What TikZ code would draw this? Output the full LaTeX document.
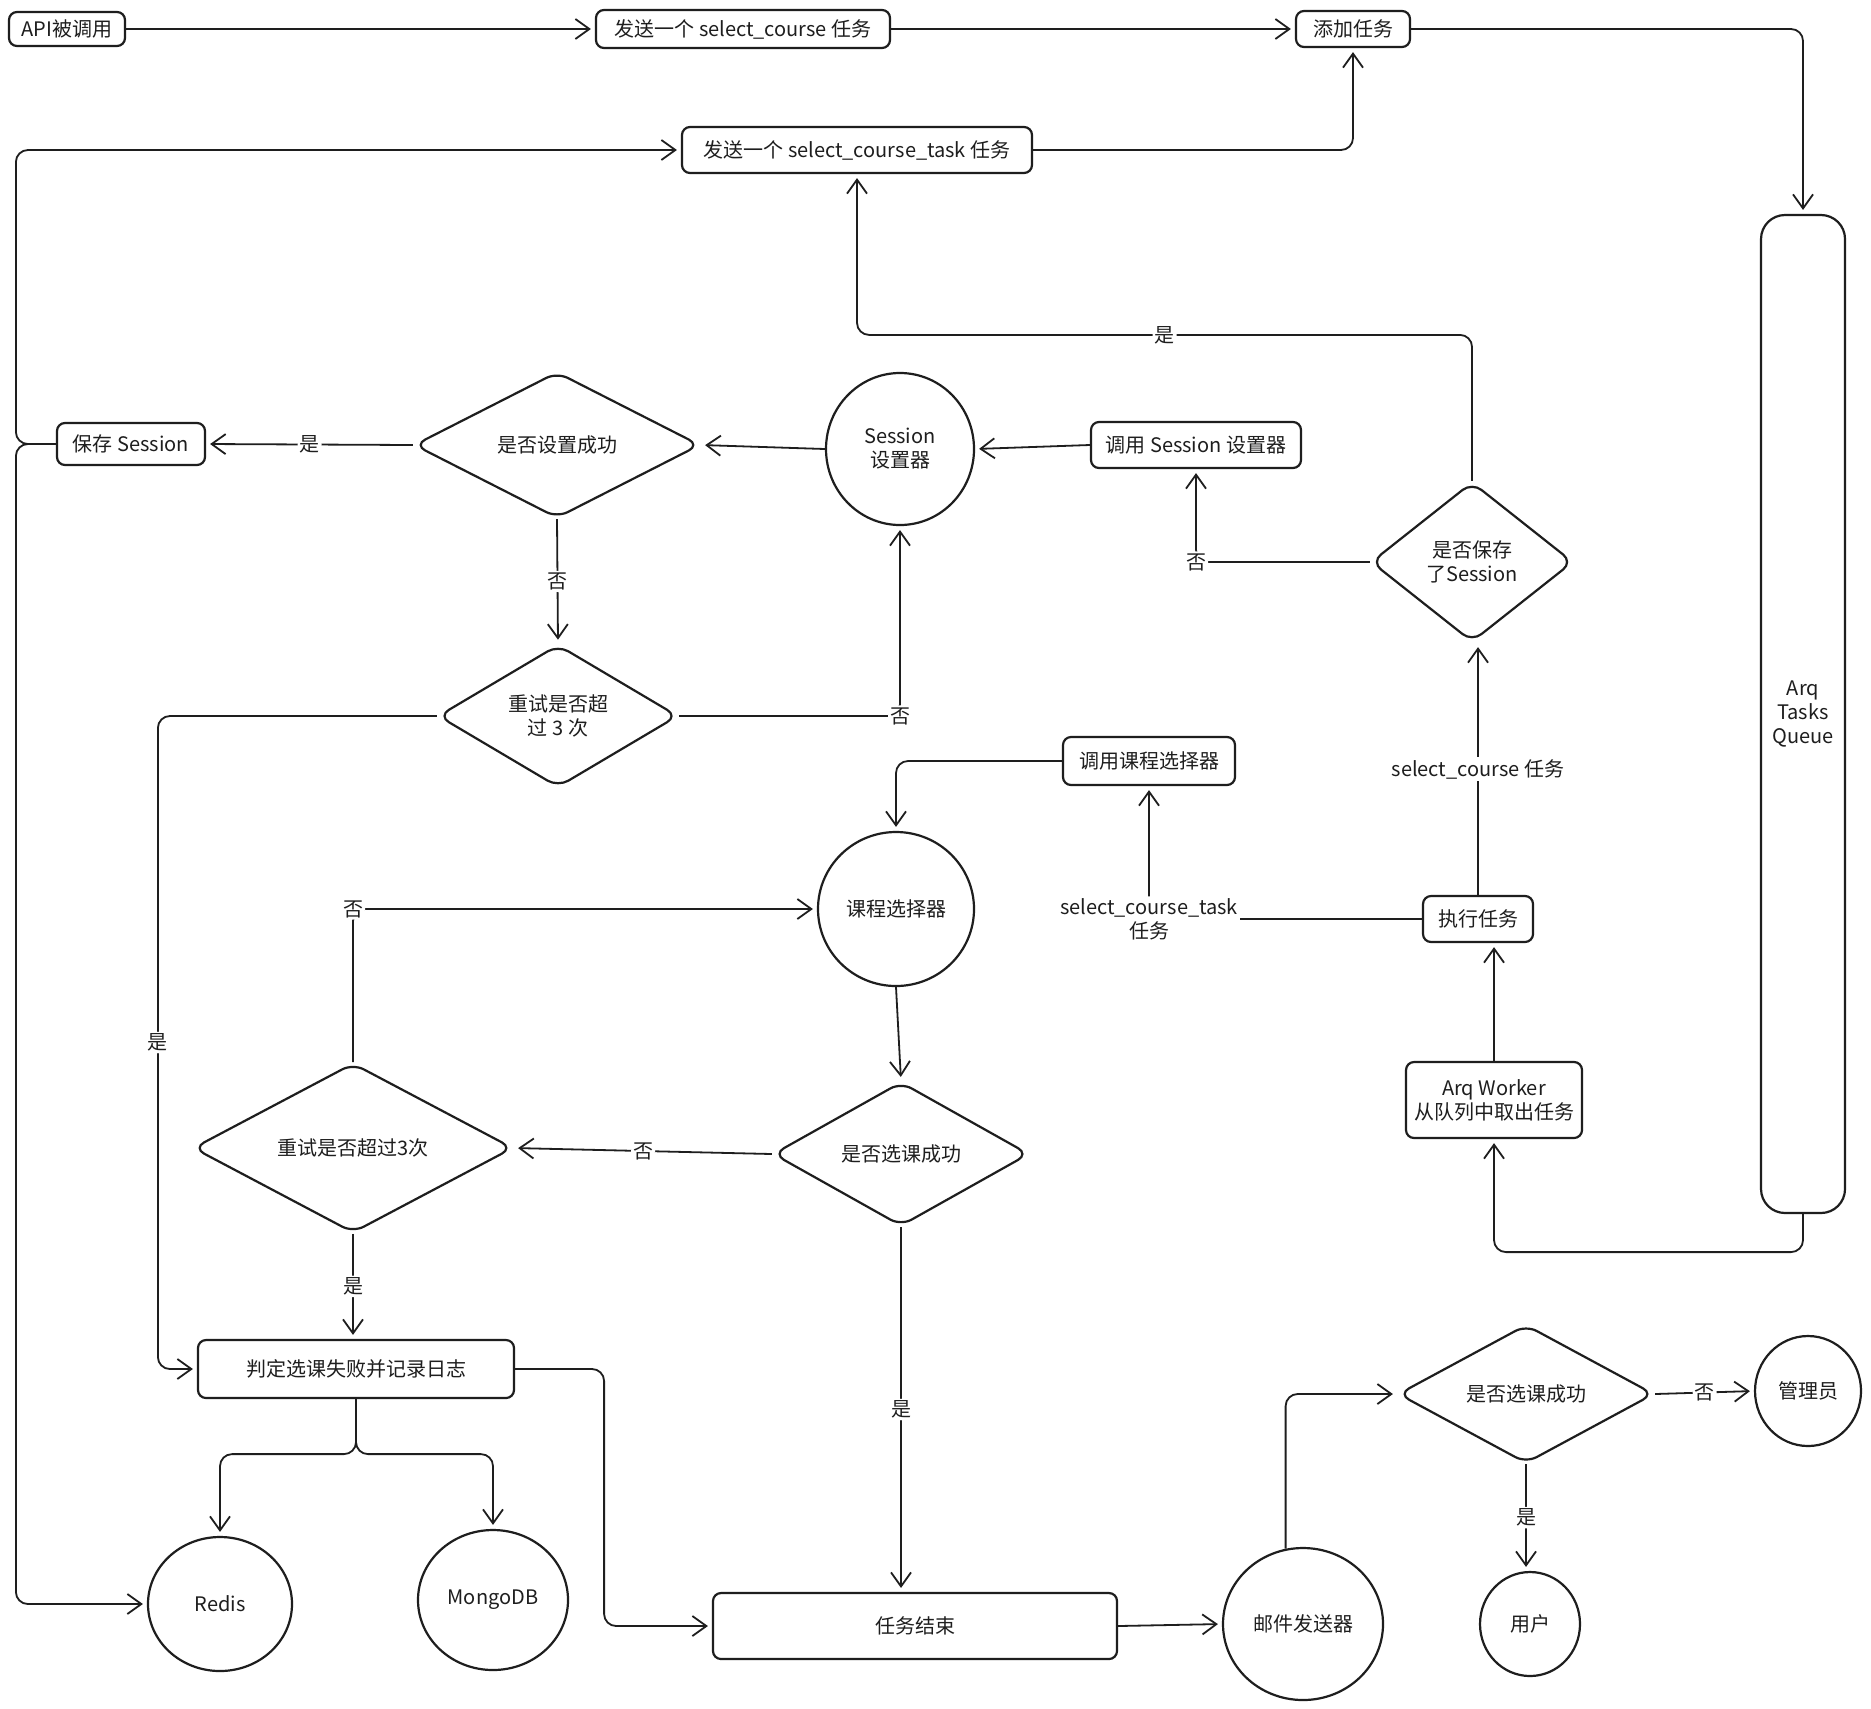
\documentclass[tikz,border=0pt]{standalone}
\usepackage{fontspec}
\setmainfont{Noto Sans CJK SC}
\usetikzlibrary{arrows.meta,positioning,calc,shapes.geometric}
\definecolor{ink}{HTML}{1E1E1E}
\tikzset{arr/.style={-{Straight Barb[length=7pt,width=10pt]},line width=0.9pt,draw=ink,rounded corners=6pt,shorten >=2pt},
  box/.style={rounded corners=4pt,draw=ink,line width=1.1pt,fill=white,align=center,inner sep=3pt,text=ink},
  decision/.style={diamond,rounded corners=6pt,draw=ink,line width=1.1pt,align=center,inner sep=0pt,text=ink},
  blob/.style={ellipse,draw=ink,line width=1.1pt,align=center,inner sep=0pt,text=ink},
  lbl/.style={fill=white,inner sep=1pt,text=ink,align=center}}

\begin{document}
\begin{tikzpicture}[x=0.5pt,y=-0.5pt]
\fill[white] (0,0) rectangle (1871,1708);
\useasboundingbox (0,0) rectangle (1871,1708);
% top row
\node[box,minimum width=58pt,minimum height=17pt] (api) at (67,29) {API被调用};
\node[box,minimum width=147pt,minimum height=19pt] (sendsc) at (743,29) {发送一个 select\_course 任务};
\node[box,minimum width=57pt,minimum height=18pt] (addtask) at (1353,29) {添加任务};
\node[box,minimum width=175pt,minimum height=23pt] (sendtask) at (857,150) {发送一个 select\_course\_task 任务};
\node[box,rounded corners=12pt,minimum width=42pt,minimum height=499pt] (queue) at (1803,714) {Arq\\Tasks\\Queue};
% session part
\node[box,minimum width=74pt,minimum height=21pt] (savess) at (131,444) {保存 Session};
\node[decision,minimum width=143pt,minimum height=73pt] (setok) at (557,445) {是否设置成功};
\node[blob,minimum width=74pt,minimum height=76pt] (ssetter) at (900,449) {Session\\设置器};
\node[box,minimum width=105pt,minimum height=23pt] (callss) at (1196,445) {调用 Session 设置器};
\node[decision,minimum width=101pt,minimum height=80pt] (hassess) at (1472,562) {是否保存\\了Session};
\node[decision,minimum width=120pt,minimum height=59pt] (retry1) at (558,716) {重试是否超\\过 3 次};
% course part
\node[box,minimum width=86pt,minimum height=24pt] (callcs) at (1149,761) {调用课程选择器};
\node[blob,minimum width=78pt,minimum height=77pt] (csel) at (896,909) {课程选择器};
\node[box,minimum width=55pt,minimum height=23pt] (exec) at (1478,919) {执行任务};
\node[box,minimum width=88pt,minimum height=38pt] (worker) at (1494,1100) {Arq Worker\\从队列中取出任务};
\node[decision,minimum width=160pt,minimum height=72pt] (retry2) at (353,1148) {重试是否超过3次};
\node[decision,minimum width=128pt,minimum height=72pt] (selok) at (901,1154) {是否选课成功};
\node[box,minimum width=158pt,minimum height=29pt] (fail) at (356,1369) {判定选课失败并记录日志};
\node[blob,minimum width=72pt,minimum height=67pt] (redis) at (220,1604) {Redis};
\node[blob,minimum width=75pt,minimum height=70pt] (mongo) at (493,1600) {MongoDB};
\node[box,minimum width=202pt,minimum height=33pt] (taskend) at (915,1626) {任务结束};
% mail part
\node[blob,minimum width=80pt,minimum height=76pt] (mailer) at (1303,1624) {邮件发送器};
\node[decision,minimum width=128pt,minimum height=68pt] (selok2) at (1526,1394) {是否选课成功};
\node[blob,minimum width=53pt,minimum height=55pt] (admin) at (1808,1391) {管理员};
\node[blob,minimum width=50pt,minimum height=52pt] (user) at (1530,1624) {用户};

\draw[arr] (api.east) -- (sendsc.west);
\draw[arr] (sendsc.east) -- (addtask.west);
\draw[arr] (sendtask.east) -| (addtask.south);
\draw[arr] (addtask.east) -| (queue.north);
\draw[arr] (queue.south) -- ++(0,38) -| (worker.south);
\draw[arr] (worker.north) -- (worker.north |- exec.south);
\draw[arr] (exec.north) -- node[lbl]{select\_course 任务} (exec.north |- hassess.south);
\draw[arr] (exec.west) -| node[lbl,pos=0.5]{select\_course\_task\\任务} (callcs.south);
\draw[arr] (hassess.north) -- ++(0,-146) -| node[lbl,pos=0.25]{是} (sendtask.south);
\draw[arr] (hassess.west) -| node[lbl,pos=0.5]{否} (callss.south);
\draw[arr] (callss.west) -- (ssetter.east);
\draw[arr] (ssetter.west) -- (setok.east);
\draw[arr] (setok.west) -- node[lbl]{是} (savess.east);
\draw[arr] (setok.south) -- node[lbl]{否} (retry1.north);
\draw[arr] (retry1.east) -| node[lbl,pos=0.5]{否} (ssetter.south);
\draw[arr] (retry1.west) -- ++(-279,0) |- node[lbl,pos=0.25]{是} (fail.west);
\draw[arr] (savess.west) -- ++(-40,0) |- (sendtask.west);
\draw[arr] (savess.west) -- ++(-40,0) |- (redis.west);
\draw[arr] (callcs.west) -| (csel.north);
\draw[arr] (csel.south) -- (selok.north);
\draw[arr] (selok.west) -- node[lbl]{否} (retry2.east);
\draw[arr] (selok.south) -- node[lbl]{是} (selok.south |- taskend.north);
\draw[arr] (retry2.north) |- node[lbl,pos=0.5]{否} (csel.west);
\draw[arr] (retry2.south) -- node[lbl]{是} (retry2.south |- fail.north);
\draw[arr] (fail.south) -- ++(0,55) -| (redis.north);
\draw[arr] (fail.south) -- ++(0,55) -| (mongo.north);
\draw[arr] (fail.east) -- ++(89,0) |- (taskend.west);
\draw[arr] (taskend.east) -- (mailer.west);
\draw[arr] (mailer.103) |- (selok2.west);
\draw[arr] (selok2.east) -- node[lbl]{否} (admin.west);
\draw[arr] (selok2.south) -- node[lbl]{是} (selok2.south |- user.north);
\end{tikzpicture}
\end{document}
